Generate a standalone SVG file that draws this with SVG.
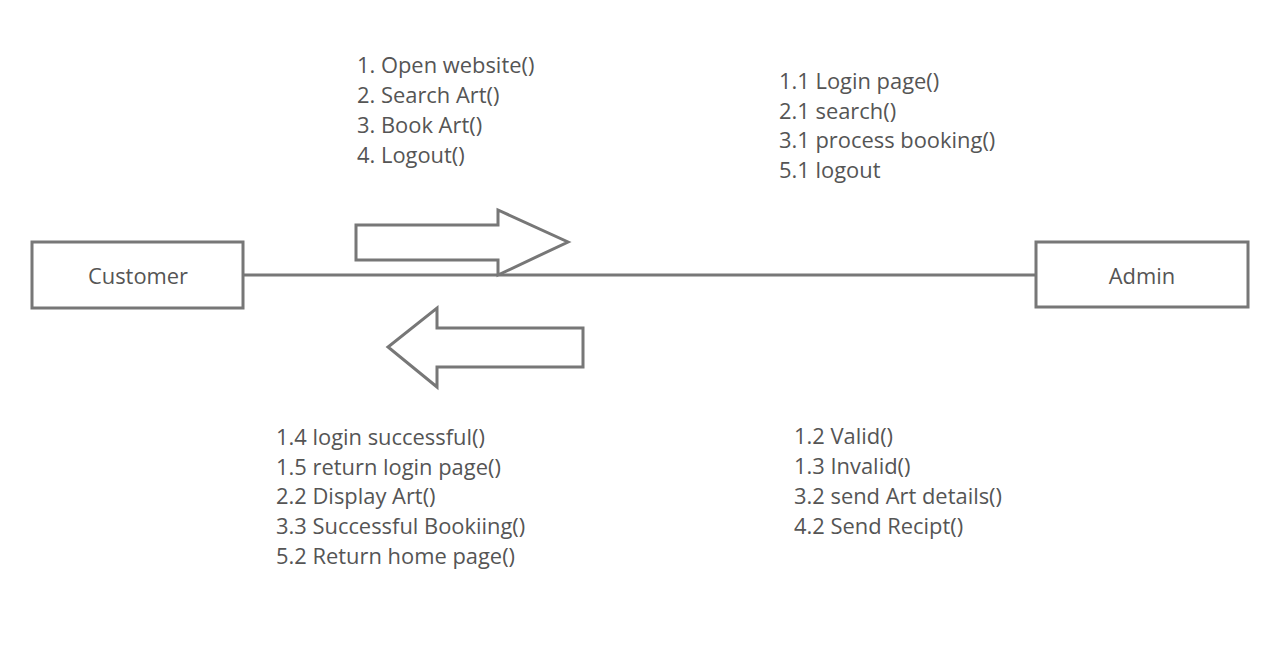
<svg xmlns="http://www.w3.org/2000/svg" width="1280" height="664" viewBox="0 0 1280 664">
<style>
.box{fill:#fff;stroke:#777;stroke-width:3}
.shape{fill:#fff;stroke:#777;stroke-width:3;stroke-linejoin:miter}
.ln{fill:none;stroke:#777;stroke-width:3}
text{font-family:"Open Sans","Noto Sans","Liberation Sans",sans-serif;font-size:21.9px;fill:#555}
.c{text-anchor:middle}
</style>
<rect width="1280" height="664" fill="#fff"/>
<g id="connectors">
<line class="ln" x1="243" y1="275" x2="1036" y2="275"/>
</g>
<g id="customer">
<rect class="box" x="32" y="242" width="211" height="66"/>
<text class="c" x="138" y="284">Customer</text>
</g>
<g id="admin">
<rect class="box" x="1036" y="242" width="212" height="65"/>
<text class="c" x="1142" y="284">Admin</text>
</g>
<g id="arrow-right">
<polygon class="shape" points="356,225 498,225 498,210 568,242 498,275 498,260 356,260"/>
</g>
<g id="arrow-left">
<polygon class="shape" points="583,328 437,328 437,308 388,347 437,387 437,367 583,367"/>
</g>
<g id="labels-top-left">
<text x="357" y="73">1. Open website()</text>
<text x="357" y="103">2. Search Art()</text>
<text x="357" y="133">3. Book Art()</text>
<text x="357" y="163">4. Logout()</text>
</g>
<g id="labels-top-right">
<text x="779" y="89">1.1 Login page()</text>
<text x="779" y="119">2.1 search()</text>
<text x="779" y="148">3.1 process booking()</text>
<text x="779" y="178">5.1 logout</text>
</g>
<g id="labels-bottom-left">
<text x="276" y="445">1.4 login successful()</text>
<text x="276" y="475">1.5 return login page()</text>
<text x="276" y="504">2.2 Display Art()</text>
<text x="276" y="534">3.3 Successful Bookiing()</text>
<text x="276" y="564">5.2 Return home page()</text>
</g>
<g id="labels-bottom-right">
<text x="794" y="444">1.2 Valid()</text>
<text x="794" y="474">1.3 Invalid()</text>
<text x="794" y="504">3.2 send Art details()</text>
<text x="794" y="534">4.2 Send Recipt()</text>
</g>
</svg>
